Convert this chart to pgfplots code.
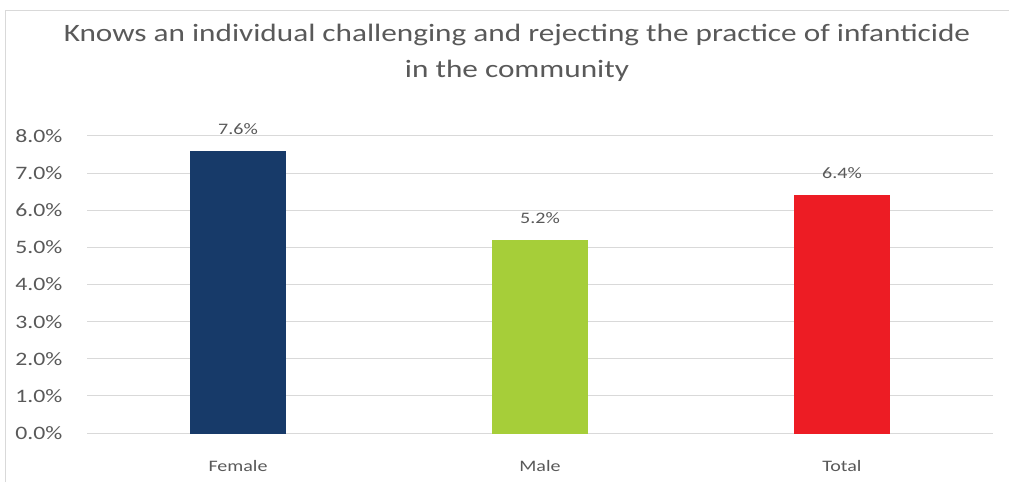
\documentclass[border=0pt]{standalone}
\usepackage{pgfplots}
\pgfplotsset{compat=1.18}
\usepackage{fontspec}
\setmainfont{Carlito}[FakeStretch=1.25]
\definecolor{txt}{HTML}{595959}
\definecolor{grd}{HTML}{D9D9D9}
\definecolor{cF}{HTML}{173A69}
\definecolor{cM}{HTML}{A6CE39}
\definecolor{cT}{HTML}{ED1C24}
\begin{document}
\begin{tikzpicture}[x=1pt,y=1pt]
\path[use as bounding box] (0,0) rectangle (1009,482);
\draw[grd,line width=1pt] (5,0) -- (5,471) -- (1009,471);
\node[txt,font=\fontsize{25}{30}\selectfont,align=center] at (517,447) {Knows an individual challenging and rejecting the practice of infanticide};
\node[txt,font=\fontsize{25}{30}\selectfont,align=center] at (517,411) {in the community};
\begin{axis}[
  at={(87pt,49pt)}, anchor=south west,
  width=906pt, height=297pt, scale only axis,
  xmin=-0.5, xmax=2.5, ymin=0, ymax=8,
  axis line style={draw=none},
  xtick={0,1,2}, xticklabels={Female,Male,Total},
  ytick={0,1,...,8},
  yticklabel={\pgfmathprintnumber[fixed,fixed zerofill,precision=1]{\tick}\%},
  /pgf/number format/assume math mode=true,
  ymajorgrids, grid style={grd,line width=1pt},
  major tick length=0pt,
  tick label style={txt},
  yticklabel style={font=\fontsize{19}{22}\selectfont, xshift=-21pt},
  xticklabel style={font=\fontsize{16}{19}\selectfont, yshift=-24pt},
  ybar, bar width=95pt, bar shift=0pt,
  nodes near coords={\pgfmathprintnumber[fixed,fixed zerofill,precision=1]{\pgfplotspointmeta}\%},
  nodes near coords style={txt,font=\fontsize{16}{19}\selectfont, yshift=13pt},
  clip=false,
]
\addplot[fill=cF,draw=cF] coordinates {(0,7.6)};
\addplot[fill=cM,draw=cM] coordinates {(1,5.2)};
\addplot[fill=cT,draw=cT] coordinates {(2,6.4)};
\end{axis}
\end{tikzpicture}
\end{document}
